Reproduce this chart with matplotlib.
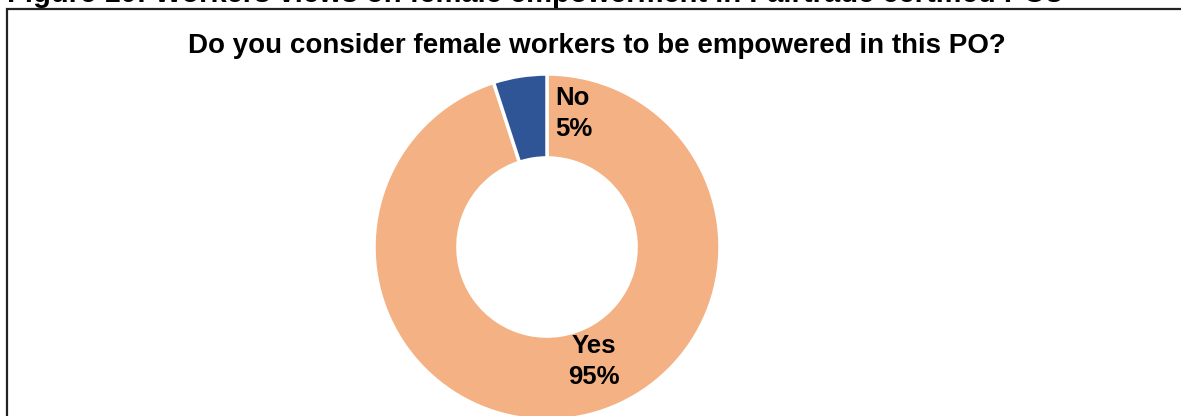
import matplotlib.pyplot as plt
from matplotlib.patches import Rectangle

labels = ['Yes', 'No']
shares = [95, 5]
colors = ['#F4B183', '#2F5597']

caption = 'Figure 10: Workers views on female empowerment in Fairtrade certified POs'
question = 'Do you consider female workers to be empowered in this PO?'

W, H = 1181, 416
plt.rcParams['font.family'] = ['Liberation Sans', 'DejaVu Sans']

fig = plt.figure(figsize=(W / 100, H / 100), dpi=100)

# frame around the chart area, running off the right and bottom edges
fig.patches.append(Rectangle((7 / W, -0.1), 1.2, 1 - 9 / H + 0.1,
                             transform=fig.transFigure, fill=False,
                             edgecolor='#222222', linewidth=1.6))

fig.text(7 / W, 1 - 2 / H, caption, fontsize=21, fontweight='bold',
         ha='left', va='baseline')
fig.text(597 / W, 1 - 53 / H, question, fontsize=20, fontweight='bold',
         ha='center', va='baseline')

# donut: centre at (547, 247) px, outer radius 173 px
r = 173
cx, cy = 547, 247
ax = fig.add_axes([(cx - r) / W, (H - cy - r) / H, 2 * r / W, 2 * r / H])
wedges, _ = ax.pie(shares, colors=colors, startangle=90, counterclock=False,
                   wedgeprops=dict(width=0.485, edgecolor='white', linewidth=2.5))
ax.set_xlim(-1, 1)
ax.set_ylim(-1, 1)
ax.set_aspect('equal')
ax.axis('off')

ax.text(0.05, 0.77, f'{labels[1]}\n{shares[1]}%', fontsize=18.5, fontweight='bold',
        ha='left', va='center', linespacing=1.35)
ax.text(0.27, -0.66, f'{labels[0]}\n{shares[0]}%', fontsize=18.5, fontweight='bold',
        ha='center', va='center', linespacing=1.35)

fig.savefig('out.png', dpi=100)
